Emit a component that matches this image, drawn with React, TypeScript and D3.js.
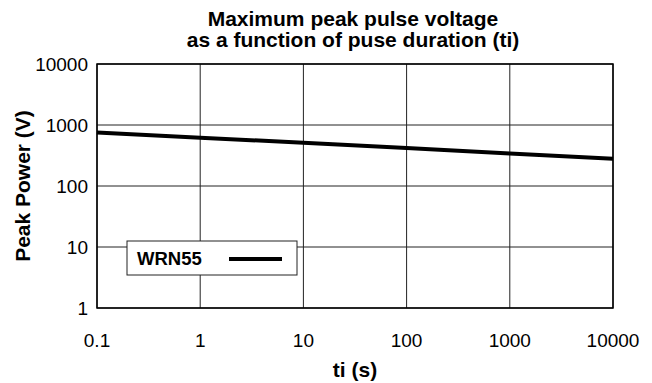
import React from "react";
import * as d3 from "d3";

const xTicks = [0.1, 1, 10, 100, 1000, 10000];
const yTicks = [1, 10, 100, 1000, 10000];
const xTickLabels = ["0.1", "1", "10", "100", "1000", "10000"];
const yTickLabels = ["1", "10", "100", "1000", "10000"];
const durations = [0.1, 1, 10, 100, 1000, 10000];
const voltages = [750, 620, 510, 420, 340, 280];
const seriesName = "WRN55";
const titleLines = ["Maximum peak pulse voltage", "as a function of puse duration (ti)"];
const xLabel = "ti (s)";
const yLabel = "Peak Power (V)";

const W = 652, H = 383;
const M = { left: 97, right: 613, top: 64, bottom: 308 };
const FONT = "'Liberation Sans Narrow', 'Liberation Sans', Arial, sans-serif";

export default function App() {
  const x = d3.scaleLog().domain([0.1, 10000]).range([M.left, M.right]);
  const y = d3.scaleLog().domain([1, 10000]).range([M.bottom, M.top]);
  const line = d3.line<number>().x((_, i) => x(durations[i])).y((v) => y(v));
  return (
    <svg width={W} height={H} style={{ position: "absolute", left: 0, top: 0, background: "#fff" }} fontFamily={FONT}>
      <rect x={0} y={0} width={W} height={H} fill="#fff" />
      {titleLines.map((t, i) => (
        <text key={i} x={353} y={26 + i * 21} textAnchor="middle" fontWeight="bold" fontSize={21}>{t}</text>
      ))}
      {xTicks.map((t) => (
        <line key={"gx" + t} x1={x(t)} x2={x(t)} y1={M.top} y2={M.bottom} stroke="#222" strokeWidth={1} />
      ))}
      {yTicks.map((t) => (
        <line key={"gy" + t} x1={M.left} x2={M.right} y1={y(t)} y2={y(t)} stroke="#222" strokeWidth={1} />
      ))}
      <rect x={M.left} y={M.top} width={M.right - M.left} height={M.bottom - M.top} fill="none" stroke="#000" strokeWidth={1.5} />
      <path d={line(voltages) || ""} fill="none" stroke="#000" strokeWidth={4} />
      {yTicks.map((t, i) => (
        <text key={"ty" + t} x={88} y={y(t) + 7} textAnchor="end" fontSize={19}>{yTickLabels[i]}</text>
      ))}
      {xTicks.map((t, i) => (
        <text key={"tx" + t} x={x(t)} y={347} textAnchor="middle" fontSize={19}>{xTickLabels[i]}</text>
      ))}
      <text x={355} y={377} textAnchor="middle" fontWeight="bold" fontSize={21}>{xLabel}</text>
      <text transform="translate(30,186) rotate(-90)" textAnchor="middle" fontWeight="bold" fontSize={21}>{yLabel}</text>
      <rect x={127} y={241} width={170} height={34} fill="#fff" stroke="#222" strokeWidth={1} />
      <text x={137} y={265} fontWeight="bold" fontSize={18.5}>{seriesName}</text>
      <line x1={229} x2={282} y1={259} y2={259} stroke="#000" strokeWidth={4} />
    </svg>
  );
}
